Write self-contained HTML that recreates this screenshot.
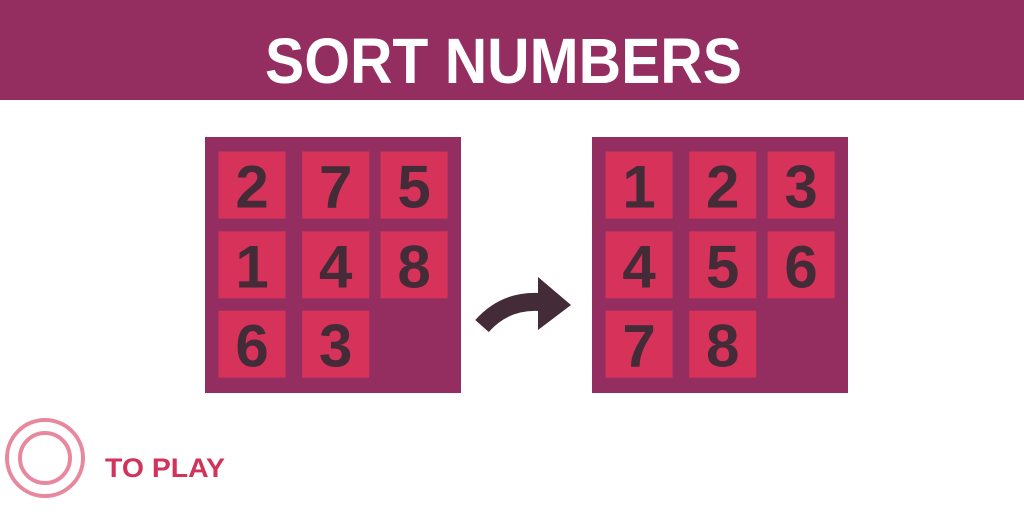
<!DOCTYPE html>
<html><head><meta charset="utf-8"><style>html,body{margin:0;padding:0;background:#fff}svg{display:block}</style></head>
<body>
<svg width="1024" height="512" viewBox="0 0 1024 512" xmlns="http://www.w3.org/2000/svg" font-family="Liberation Sans, sans-serif">
<rect x="0" y="0" width="1024" height="100" fill="#952e60"/>
<text x="265" y="83" font-size="64" font-weight="bold" fill="#fff" textLength="477" lengthAdjust="spacingAndGlyphs">SORT NUMBERS</text>
<g id="boards"></g>
<path d="M482 326 Q505 300 540 302" stroke="#432b38" stroke-width="18" fill="none"/>
<polygon points="538,277 571,305 538,330" fill="#432b38"/>
<circle cx="45" cy="458" r="38" fill="none" stroke="#e7889f" stroke-width="4"/>
<circle cx="45" cy="458" r="25" fill="none" stroke="#e7889f" stroke-width="4"/>
<text x="105" y="477" font-size="27" font-weight="bold" fill="#d2335a" textLength="120" lengthAdjust="spacingAndGlyphs">TO PLAY</text>
</svg>
<script>
const leftTiles = [2,7,5,1,4,8,6,3,null];
const rightTiles = [1,2,3,4,5,6,7,8,null];
const ns='http://www.w3.org/2000/svg';
const g=document.getElementById('boards');
const colX=[13.6,80.6+16.6,80.6+16.6+67+11.4];
const rowY=[14.6,94.3,173.7];
function board(x0,tiles,name){
  const b=document.createElementNS(ns,'rect');
  b.setAttribute('x',x0);b.setAttribute('y',137);b.setAttribute('width',256);b.setAttribute('height',256);b.setAttribute('fill','#952e60');
  
  
  g.appendChild(b);
  tiles.forEach((v,i)=>{
    if(v===null)return;
    const tx=x0+colX[i%3], ty=137+rowY[Math.floor(i/3)];
    const r=document.createElementNS(ns,'rect');
    r.setAttribute('x',tx);r.setAttribute('y',ty);r.setAttribute('width',67);r.setAttribute('height',67);r.setAttribute('fill','#d7325a');
    
    
    g.appendChild(r);
    const t=document.createElementNS(ns,'text');
    t.setAttribute('x',tx+33.5);t.setAttribute('y',ty+56);t.setAttribute('text-anchor','middle');
    t.setAttribute('font-size','60');t.setAttribute('font-weight','bold');t.setAttribute('fill','#432b38');
    t.textContent=v;
    
    
    g.appendChild(t);
  });
}
board(205,leftTiles,'unsorted-board');
board(592,rightTiles,'sorted-board');
</script>
</body></html>
